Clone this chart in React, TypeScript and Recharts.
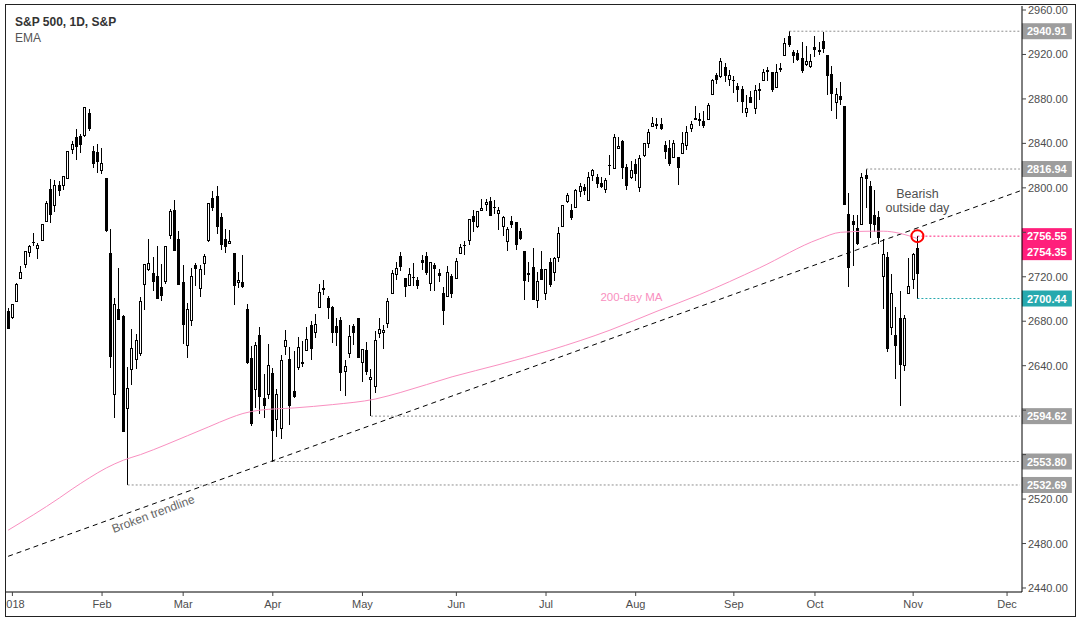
import React from 'react';
import { ComposedChart, Bar, Line, XAxis, YAxis, ReferenceLine, ReferenceDot } from 'recharts';

// S&P 500 daily candles, 2017-12-29 .. 2018-11-02 (index 0 = Dec 29 2017)
const opens = [
  2689.15,
  2683.73, 2697.85, 2719.31, 2731.33, 2742.67, 2751.15, 2745.55, 2752.97, 2770.18, 2798.96, 2784.99, 2802.40, 2802.60, 2809.16, 2835.05, 2845.42, 2846.24, 2847.48, 2867.23, 2832.74, 2832.41,
  2816.45, 2808.92, 2741.06, 2614.78, 2690.95, 2685.01, 2601.78, 2636.75, 2646.27, 2651.21, 2713.46, 2727.14, 2722.99, 2720.53, 2710.42, 2715.80, 2757.37, 2780.45, 2753.78,
  2715.22, 2658.89, 2681.06, 2730.18, 2710.18, 2732.75, 2752.91, 2790.54, 2792.31, 2774.06, 2754.27, 2750.57, 2741.38, 2715.05, 2714.99, 2691.36, 2646.71, 2619.35, 2667.57, 2611.30, 2614.41,
  2633.45, 2592.17, 2584.04, 2657.36, 2645.82, 2617.18, 2638.41, 2643.24, 2653.83, 2676.90, 2670.10, 2692.74, 2710.11, 2701.16, 2692.56, 2675.40, 2680.80, 2634.92, 2651.65, 2675.47, 2682.51,
  2642.96, 2654.24, 2628.08, 2621.45, 2669.36, 2670.26, 2678.12, 2705.02, 2722.70, 2738.47, 2718.59, 2712.62, 2719.71, 2717.35, 2735.39, 2738.34, 2713.98, 2730.94, 2723.60, 2705.11, 2702.43, 2720.98,
  2718.70, 2741.67, 2748.46, 2753.25, 2774.84, 2765.84, 2780.18, 2785.60, 2787.94, 2783.21, 2777.78, 2765.79, 2752.01, 2769.73, 2769.28, 2760.79, 2742.94, 2722.12, 2728.45, 2698.69, 2727.13,
  2704.95, 2733.27, 2724.19, 2737.68, 2765.79, 2788.56, 2779.82, 2783.14, 2796.93, 2800.83, 2789.34, 2811.35, 2809.37, 2804.55, 2799.17, 2820.68, 2817.73, 2835.49, 2842.35, 2819.00, 2809.73,
  2821.17, 2800.48, 2829.62, 2840.29, 2855.92, 2856.79, 2857.19, 2838.90, 2835.46, 2827.88, 2827.95, 2831.44, 2838.32, 2853.93, 2861.51, 2860.99, 2860.29, 2862.35, 2884.69, 2901.45, 2900.62, 2908.94, 2898.37,
  2896.96, 2891.59, 2888.64, 2868.26, 2881.39, 2871.57, 2888.29, 2896.85, 2906.38, 2903.83, 2890.74, 2906.60, 2919.73, 2936.76, 2921.83, 2921.75, 2916.98, 2911.65, 2910.03,
  2926.29, 2923.80, 2931.69, 2919.35, 2902.54, 2877.53, 2882.51, 2873.90, 2776.87, 2770.54, 2763.83, 2767.05, 2811.67, 2802.00, 2775.66, 2773.94, 2721.03, 2737.87, 2674.88, 2667.86, 2682.65, 2640.68, 2705.60,
  2717.58, 2745.45,
];
const highs = [
  2692.12,
  2695.89, 2714.37, 2729.29, 2743.45, 2748.51, 2759.14, 2750.80, 2767.56, 2787.85, 2807.54, 2807.04, 2805.83, 2810.33, 2833.03, 2842.24, 2852.97, 2848.56, 2872.87, 2870.62, 2837.75, 2839.26,
  2835.96, 2808.92, 2763.39, 2701.04, 2727.67, 2685.27, 2638.67, 2672.61, 2668.84, 2702.10, 2731.51, 2754.42, 2737.60, 2747.75, 2731.26, 2747.76, 2780.64, 2789.15, 2761.52,
  2730.89, 2696.25, 2728.09, 2732.08, 2730.60, 2740.45, 2786.57, 2796.98, 2801.90, 2777.11, 2763.03, 2761.85, 2741.38, 2724.22, 2739.14, 2695.68, 2657.67, 2661.36, 2674.78, 2632.65, 2659.07,
  2638.30, 2619.14, 2649.86, 2672.08, 2656.88, 2653.55, 2665.45, 2662.61, 2674.72, 2680.26, 2686.49, 2713.34, 2717.49, 2702.84, 2693.94, 2682.86, 2683.55, 2645.30, 2676.48, 2677.35, 2682.87,
  2655.27, 2660.87, 2637.14, 2670.93, 2683.35, 2676.34, 2701.27, 2726.11, 2732.86, 2742.10, 2718.59, 2727.76, 2731.96, 2719.50, 2739.19, 2742.24, 2733.33, 2731.97, 2727.36, 2710.67, 2729.34, 2722.50,
  2736.93, 2749.16, 2752.61, 2772.39, 2779.90, 2779.39, 2790.21, 2789.80, 2791.47, 2789.06, 2782.81, 2774.99, 2765.05, 2774.86, 2769.28, 2764.17, 2742.94, 2732.91, 2746.09, 2724.34, 2743.26,
  2727.26, 2736.58, 2737.83, 2764.41, 2784.65, 2795.58, 2785.91, 2799.22, 2804.53, 2803.35, 2814.19, 2816.76, 2812.05, 2809.70, 2808.61, 2829.99, 2848.03, 2845.57, 2843.17, 2821.74, 2824.46,
  2825.83, 2829.91, 2840.38, 2853.29, 2863.43, 2862.44, 2862.48, 2842.20, 2843.40, 2843.11, 2827.95, 2850.49, 2855.63, 2859.76, 2873.23, 2867.54, 2868.78, 2876.16, 2898.25, 2903.77, 2916.50, 2912.46, 2906.32,
  2900.18, 2894.21, 2892.05, 2883.81, 2886.93, 2892.52, 2894.65, 2906.76, 2908.30, 2904.65, 2911.17, 2912.36, 2934.80, 2940.91, 2923.79, 2923.95, 2931.15, 2927.22, 2920.53,
  2937.06, 2931.42, 2939.86, 2919.78, 2909.64, 2889.45, 2894.83, 2874.02, 2795.14, 2775.77, 2775.99, 2813.46, 2816.94, 2806.04, 2797.77, 2778.94, 2753.59, 2742.59, 2722.70, 2692.38, 2706.85, 2685.43, 2736.69,
  2741.67, 2756.55,
];
const lows = [
  2673.61,
  2682.36, 2697.77, 2719.07, 2727.92, 2737.60, 2747.86, 2736.06, 2752.78, 2769.64, 2768.64, 2778.38, 2792.56, 2798.08, 2808.12, 2830.59, 2824.81, 2830.94, 2846.18, 2851.48, 2818.27, 2813.04,
  2812.70, 2759.97, 2638.17, 2593.07, 2681.33, 2580.56, 2532.69, 2622.45, 2637.08, 2648.87, 2689.82, 2725.11, 2706.76, 2701.29, 2697.77, 2713.74, 2753.78, 2744.22, 2713.54,
  2659.65, 2647.32, 2675.75, 2711.26, 2701.74, 2721.92, 2751.54, 2779.26, 2758.68, 2744.38, 2741.47, 2749.97, 2694.59, 2710.05, 2709.79, 2641.59, 2585.89, 2601.81, 2596.12, 2593.06, 2609.72,
  2553.80, 2575.49, 2573.61, 2649.58, 2586.27, 2610.79, 2635.78, 2639.25, 2653.83, 2645.05, 2665.16, 2692.05, 2703.63, 2681.90, 2660.61, 2657.99, 2617.32, 2612.67, 2647.16, 2659.01, 2648.04,
  2625.41, 2631.70, 2594.62, 2615.32, 2664.70, 2655.20, 2674.14, 2704.54, 2717.45, 2725.47, 2701.91, 2712.17, 2711.36, 2709.18, 2725.70, 2721.88, 2707.38, 2707.38, 2714.99, 2676.81, 2702.43, 2700.68,
  2718.70, 2740.54, 2739.51, 2748.46, 2760.16, 2763.59, 2780.17, 2778.78, 2774.65, 2776.52, 2761.73, 2757.12, 2743.19, 2763.91, 2744.39, 2752.68, 2698.67, 2715.60, 2699.38, 2691.99, 2718.03,
  2698.95, 2711.16, 2716.02, 2733.52, 2765.79, 2786.24, 2770.77, 2781.53, 2791.69, 2793.99, 2789.24, 2805.89, 2799.77, 2800.01, 2795.14, 2811.12, 2817.73, 2835.26, 2808.34, 2798.11, 2808.06,
  2805.85, 2796.34, 2827.37, 2835.98, 2855.92, 2853.09, 2851.98, 2825.81, 2819.88, 2826.58, 2802.49, 2831.44, 2833.73, 2850.62, 2861.32, 2856.05, 2854.03, 2862.35, 2884.69, 2893.50, 2898.40, 2895.22, 2891.73,
  2885.13, 2876.92, 2867.29, 2864.12, 2875.94, 2866.78, 2879.20, 2896.39, 2895.77, 2886.16, 2890.43, 2903.82, 2919.73, 2927.11, 2912.63, 2913.70, 2903.28, 2909.27, 2907.50,
  2917.91, 2919.37, 2921.36, 2883.92, 2869.29, 2862.08, 2874.27, 2784.86, 2710.51, 2729.44, 2749.03, 2766.91, 2781.81, 2755.18, 2760.27, 2749.22, 2691.43, 2651.89, 2667.84, 2628.16, 2603.54, 2635.34, 2705.60,
  2708.85, 2700.44,
];
const closes = [
  2673.61,
  2695.81, 2713.06, 2723.99, 2743.15, 2747.71, 2751.29, 2748.23, 2767.56, 2786.24, 2776.42, 2802.56, 2798.03, 2810.30, 2832.97, 2839.13, 2837.54, 2839.25, 2872.87, 2853.53, 2822.43, 2823.81,
  2821.98, 2762.13, 2648.94, 2695.14, 2681.66, 2581.00, 2619.55, 2656.00, 2662.94, 2698.63, 2731.20, 2732.22, 2716.26, 2701.33, 2703.96, 2747.30, 2779.60, 2744.28, 2713.83,
  2677.67, 2691.25, 2720.94, 2728.12, 2726.80, 2738.97, 2786.57, 2783.02, 2765.31, 2749.48, 2747.33, 2752.01, 2712.92, 2716.94, 2711.93, 2643.69, 2588.26, 2658.55, 2612.62, 2605.00, 2640.87,
  2581.88, 2614.45, 2644.69, 2662.84, 2604.47, 2613.16, 2656.87, 2642.19, 2663.99, 2656.30, 2677.84, 2706.39, 2708.64, 2693.13, 2670.14, 2670.29, 2634.56, 2639.40, 2666.94, 2669.91, 2648.05,
  2654.80, 2635.67, 2629.73, 2663.42, 2672.63, 2671.92, 2697.79, 2723.07, 2727.72, 2730.13, 2711.45, 2722.46, 2720.13, 2712.97, 2733.01, 2724.44, 2733.29, 2727.76, 2721.33, 2689.86, 2724.01, 2705.27,
  2734.62, 2746.87, 2748.80, 2772.35, 2770.37, 2779.03, 2782.00, 2786.85, 2775.63, 2782.49, 2779.66, 2773.75, 2762.59, 2767.32, 2749.76, 2754.88, 2717.07, 2723.06, 2699.63, 2716.31, 2718.37,
  2726.71, 2713.22, 2736.61, 2759.82, 2784.17, 2793.84, 2774.02, 2798.29, 2801.31, 2798.43, 2809.55, 2815.62, 2804.49, 2801.83, 2806.98, 2820.40, 2846.07, 2837.44, 2818.82, 2802.60, 2816.29,
  2813.36, 2827.22, 2840.35, 2850.40, 2858.45, 2857.70, 2853.58, 2833.28, 2821.93, 2839.96, 2818.37, 2840.69, 2850.13, 2857.05, 2862.96, 2861.82, 2856.98, 2874.69, 2896.74, 2897.52, 2914.04, 2901.13, 2901.52,
  2896.72, 2888.60, 2878.05, 2871.68, 2877.13, 2887.89, 2888.92, 2904.18, 2904.98, 2888.80, 2904.31, 2907.95, 2930.75, 2929.67, 2919.37, 2915.56, 2905.97, 2914.00, 2913.98,
  2924.59, 2923.43, 2925.51, 2901.61, 2885.57, 2884.43, 2880.34, 2785.68, 2728.37, 2767.13, 2750.79, 2809.92, 2809.21, 2768.78, 2767.78, 2755.88, 2740.69, 2656.10, 2705.57, 2658.69, 2641.25, 2682.63, 2711.74,
  2740.37, 2723.06,
];

// 200-day EMA at these bar indices
const emaIdx = [0, 12, 15, 19, 23, 27, 31, 37, 42, 47, 52, 55, 59, 67, 76, 86, 92, 104, 115, 127, 141, 152, 162, 176, 190, 195, 202, 205, 209, 213];
const emaVal = [2492, 2521, 2529, 2539, 2548, 2555, 2560, 2569, 2577, 2585, 2593, 2597, 2600, 2602, 2605, 2610, 2616, 2630, 2641, 2654, 2672, 2689, 2704, 2728, 2754, 2760, 2761, 2761, 2759, 2754.35];
const emaLast = 2754.35;

// X axis: total bar slots on the time axis and month ticks
const SLOTS = 238;
const monthTickIdx = [1, 22, 41, 62, 83, 105, 126, 147, 170, 189, 212, 234];
const monthTickLabels = ['2018', 'Feb', 'Mar', 'Apr', 'May', 'Jun', 'Jul', 'Aug', 'Sep', 'Oct', 'Nov', 'Dec'];

// Y axis
const priceTicks = [2440, 2480, 2520, 2560, 2600, 2640, 2680, 2720, 2760, 2800, 2840, 2880, 2920, 2960];
const yDomain = [2436.4, 2963.6];

// horizontal levels: value, starting bar, kind
const levelValues = [2940.91, 2816.94, 2756.55, 2700.44, 2594.62, 2553.8, 2532.69];
const levelFromIdx = [183, 201, 213, 213, 85, 62, 28];
const levelKinds = ['gray', 'gray', 'pink', 'teal', 'gray', 'gray', 'gray'];

// trendline end points (bar index, price)
const trendIdx = [0, 237];
const trendVal = [2468.5, 2797.2];

const FONT = 'Liberation Sans, Arial, sans-serif';
const tagColors: any = { gray: '#9d9d9d', pink: '#ff1f7b', teal: '#27a9ae' };
const lineColors: any = { gray: '#8e8e8e', pink: '#ff1f7b', teal: '#27a9ae' };

const emaMap: any = {};
emaIdx.forEach((k, j) => { emaMap[k] = emaVal[j]; });

const rows = Array.from({ length: SLOTS }, (_, i) => ({
  i,
  range: i < closes.length ? [lows[i], highs[i]] : undefined,
  o: opens[i],
  h: highs[i],
  l: lows[i],
  c: closes[i],
  ema: emaMap[i],
}));

// price-axis tick labels hidden where a price tag covers them
const coveredByTag = (v: number) =>
  levelValues.some((lv, j) => {
    const below = levelKinds[j] === 'pink' ? 21.6 : 7.4;
    return v <= lv + 7.4 && v >= lv - below;
  });

const Candle = (props: any) => {
  const { x, y, width, height, payload } = props;
  if (!payload || payload.o == null || x == null) return null;
  const top = Math.min(y, y + height);
  const bot = Math.max(y, y + height);
  const { o, h, l, c } = payload;
  const span = h - l || 1;
  const py = (v: number) => top + ((h - v) / span) * (bot - top);
  const r = Math.floor(x + width / 2);
  const yo = py(o);
  const yc = py(c);
  const bTop = Math.round(Math.min(yo, yc));
  const bBot = Math.round(Math.max(yo, yc));
  const up = c >= o;
  const bh = bBot - bTop;
  return (
    <g shapeRendering="crispEdges">
      <line x1={r + 0.5} x2={r + 0.5} y1={top} y2={bot} stroke="#000" strokeWidth={1} />
      {bh < 1 ? (
        <line x1={r - 1} x2={r + 2} y1={bTop + 0.5} y2={bTop + 0.5} stroke="#000" strokeWidth={1} />
      ) : (
        <rect x={r - 0.5} y={bTop + 0.5} width={2} height={bh} fill={up ? '#fff' : '#000'} stroke="#000" strokeWidth={1} />
      )}
    </g>
  );
};

const MonthTick = (props: any) => {
  const { x, y, payload } = props;
  const k = monthTickIdx.indexOf(payload.value);
  if (k < 0) return null;
  return (
    <g>
      <line x1={x} x2={x} y1={y - 6} y2={y - 2} stroke="#444" />
      <text x={x} y={y + 10} textAnchor="middle" fill="#4d4d4d" fontSize={11} fontFamily={FONT}>
        {monthTickLabels[k]}
      </text>
    </g>
  );
};

const PriceTick = (props: any) => {
  const { x, y, payload } = props;
  if (coveredByTag(payload.value)) return null;
  return (
    <text x={x} y={y + 4} textAnchor="start" fill="#4d4d4d" fontSize={11} fontFamily={FONT}>
      {Number(payload.value).toFixed(2)}
    </text>
  );
};

const PriceTag = (props: any) => {
  const { viewBox, value, kind } = props;
  if (!viewBox) return null;
  const x = viewBox.x + viewBox.width + 2;
  const y = viewBox.y;
  const stacked = kind === 'pink';
  return (
    <g>
      <rect x={x} y={y - 8} width={50} height={stacked ? 32 : 16} fill={tagColors[kind]} />
      <text x={x + 25} y={y + 4} textAnchor="middle" fill="#fff" fontWeight="bold" fontSize={11} fontFamily={FONT}>
        {value.toFixed(2)}
      </text>
      {stacked && (
        <text x={x + 25} y={y + 20} textAnchor="middle" fill="#fff" fontWeight="bold" fontSize={11} fontFamily={FONT}>
          {emaLast.toFixed(2)}
        </text>
      )}
    </g>
  );
};

const centerOf = (vb: any) => ({ cx: vb.x + vb.width / 2, cy: vb.y + vb.height / 2 });

export default function App() {
  return (
    <div
      style={{
        position: 'absolute',
        left: 5,
        top: 4,
        width: 1071,
        height: 613,
        border: '1px solid #222',
        boxSizing: 'border-box',
        background: '#fff',
      }}
    >
      <ComposedChart width={1069} height={611} data={rows} margin={{ top: 1, right: 0, bottom: 0, left: 0 }} barCategoryGap="0%">
        <XAxis
          dataKey="i"
          type="category"
          interval={0}
          tick={<MonthTick />}
          tickLine={false}
          tickSize={4}
          tickMargin={2}
          height={24}
          axisLine={{ stroke: '#000' }}
        />
        <YAxis
          orientation="right"
          width={53}
          type="number"
          domain={yDomain}
          allowDataOverflow
          ticks={priceTicks}
          interval={0}
          tick={<PriceTick />}
          tickSize={4}
          tickMargin={2}
          tickLine={{ stroke: '#444' }}
          axisLine={{ stroke: '#000' }}
        />
        <ReferenceLine
          segment={[{ x: trendIdx[0], y: trendVal[0] }, { x: trendIdx[1], y: trendVal[1] }]}
          stroke="#000"
          strokeWidth={1}
          strokeDasharray="5 4"
          ifOverflow="visible"
        />
        {levelValues.map((v, j) => (
          <ReferenceLine
            key={'lv' + j}
            segment={[{ x: levelFromIdx[j], y: v }, { x: SLOTS - 1, y: v }]}
            stroke={lineColors[levelKinds[j]]}
            strokeWidth={1}
            strokeDasharray="2 2"
            ifOverflow="visible"
            label={(p: any) => <PriceTag viewBox={p.viewBox} value={v} kind={levelKinds[j]} />}
          />
        ))}
        <Line
          dataKey="ema"
          type="monotone"
          stroke="#f98fc0"
          strokeWidth={1}
          dot={false}
          activeDot={false}
          connectNulls
          isAnimationActive={false}
        />
        <Bar dataKey="range" shape={<Candle />} isAnimationActive={false} />
        <ReferenceDot
          x={213}
          y={2756.55}
          r={6}
          fill="none"
          stroke="#ff0000"
          strokeWidth={2}
          ifOverflow="visible"
        />
        <ReferenceDot
          x={213}
          y={2789.5}
          r={1}
          fill="none"
          stroke="none"
          ifOverflow="visible"
          label={(p: any) => {
            const { cx, cy } = centerOf(p.viewBox);
            return (
              <text textAnchor="middle" fill="#4f4f4f" fontSize={12.5} fontFamily={FONT}>
                <tspan x={cx} y={cy - 2}>Bearish</tspan>
                <tspan x={cx} y={cy + 12}>outside day</tspan>
              </text>
            );
          }}
        />
        <ReferenceDot
          x={146}
          y={2702}
          r={1}
          fill="none"
          stroke="none"
          ifOverflow="visible"
          label={(p: any) => {
            const { cx, cy } = centerOf(p.viewBox);
            return (
              <text x={cx} y={cy + 4} textAnchor="middle" fill="#f98fc0" fontSize={11.5} fontFamily={FONT}>
                200-day MA
              </text>
            );
          }}
        />
        <ReferenceDot
          x={34}
          y={2506.6}
          r={1}
          fill="none"
          stroke="none"
          ifOverflow="visible"
          label={(p: any) => {
            const { cx, cy } = centerOf(p.viewBox);
            return (
              <text
                x={cx}
                y={cy + 4}
                textAnchor="middle"
                fill="#666"
                fontSize={12}
                fontFamily={FONT}
                transform={`rotate(-20.4, ${cx}, ${cy})`}
              >
                Broken trendline
              </text>
            );
          }}
        />
      </ComposedChart>
      <svg width={200} height={50} style={{ position: 'absolute', left: 0, top: 0, pointerEvents: 'none' }}>
        <text x={9} y={21} fill="#333" fontSize={12} fontWeight="bold" fontFamily={FONT}>
          S&amp;P 500, 1D, S&amp;P
        </text>
        <text x={9} y={37} fill="#555" fontSize={12} fontFamily={FONT}>
          EMA
        </text>
      </svg>
    </div>
  );
}
